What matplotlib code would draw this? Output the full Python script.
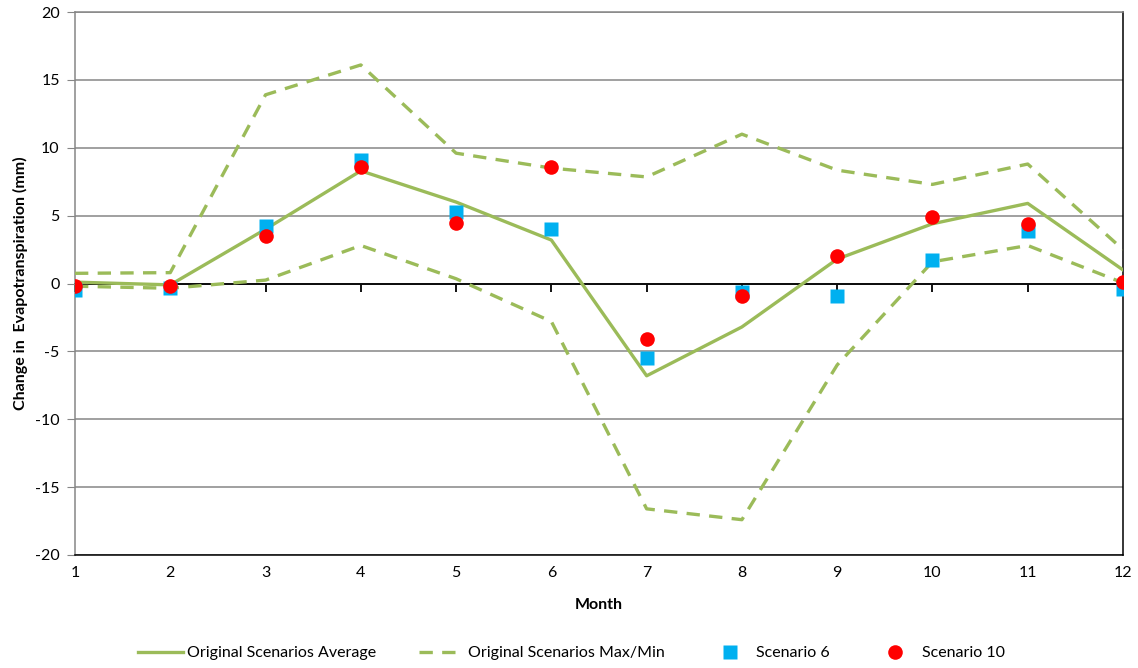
import numpy as np
import matplotlib.pyplot as plt

#%% Data
months = [1, 2, 3, 4, 5, 6, 7, 8, 9, 10, 11, 12]
avg_values = [0.1, -0.1, 4.0, 8.3, 6.0, 3.2, -6.8, -3.2, 1.8, 4.4, 5.9, 1.0]
max_values = [0.75, 0.8, 13.9, 16.1, 9.6, 8.5, 7.85, 11.0, 8.35, 7.3, 8.8, 2.5]
min_values = [-0.2, -0.35, 0.25, 2.8, 0.35, -2.8, -16.6, -17.4, -6.0, 1.6, 2.8, 0.05]
scen6_values = [-0.45, -0.3, 4.2, 9.1, 5.25, 4.0, -5.5, -0.65, -0.9, 1.7, 3.9, -0.4]
scen10_values = [-0.15, -0.2, 3.5, 8.55, 4.45, 8.6, -4.1, -0.95, 2.0, 4.9, 4.4, 0.1]
y_ticks = [-20, -15, -10, -5, 0, 5, 10, 15, 20]

#%% Style
plt.rcParams['font.family'] = ['Lato', 'DejaVu Sans']
plt.rcParams['axes.unicode_minus'] = False
green = '#9BBB59'
grid_gray = '#868686'

fig = plt.figure(figsize=(11.38, 6.68), dpi=100)
rect = [75/1138, 1 - 555/668, (1123-75)/1138, (555-12)/668]

# back axes: gridlines and the horizontal axis line crossing at y = 0
ax0 = fig.add_axes(rect, zorder=0)
ax = fig.add_axes(rect, zorder=1)
ax.patch.set_visible(False)

ax0.set_xlim(1, 12)
ax0.set_ylim(-20, 20)
ax0.set_xticks(months)
ax0.set_yticks(y_ticks)
for side in ['top', 'left', 'right']:
    ax0.spines[side].set_visible(False)
ax0.spines['bottom'].set_position(('data', 0))
ax0.spines['bottom'].set_color('black')
ax0.spines['bottom'].set_linewidth(1.3)
ax0.tick_params(axis='x', direction='out', length=6, width=1.3,
                colors='black', labelbottom=False)
ax0.yaxis.grid(True, color=grid_gray, lw=1.1)
ax0.tick_params(axis='y', left=False, labelleft=False)

#%% Series
ax.plot(months, avg_values, '-', color=green, lw=2.4, label='Original Scenarios Average', zorder=3)
ax.plot(months, max_values, color=green, lw=2.4, linestyle=(0, (4, 2.8)),
        label='Original Scenarios Max/Min', zorder=3)
ax.plot(months, min_values, color=green, lw=2.4, linestyle=(0, (4, 2.8)), zorder=3)
ax.plot(months, scen6_values, 's', color='#00B0F0', ms=9.5, mec='none',
        label='Scenario 6', zorder=4)
ax.plot(months, scen10_values, 'o', color='#FF0000', ms=10.5, mec='none',
        label='Scenario 10', zorder=5)

ax.set_xlim(1, 12)
ax.set_ylim(-20, 20)
ax.set_xticks(months)
ax.set_yticks(y_ticks)

# spines
ax.spines['left'].set_color(grid_gray)
ax.spines['top'].set_color(grid_gray)
ax.spines['right'].set_color('black')
ax.spines['bottom'].set_color('black')
for s in ax.spines.values():
    s.set_linewidth(1.1)

ax.tick_params(axis='x', length=0, labelsize=11.5, pad=8)
ax.tick_params(axis='y', length=6, color=grid_gray, labelsize=11.5, pad=5)

ax.set_xlabel('Month', fontsize=11.5, fontweight='bold', labelpad=13)
ax.set_ylabel('Change in  Evapotranspiration (mm)', fontsize=11.5, fontweight='bold', labelpad=5)

fig.legend(loc='center', bbox_to_anchor=(0.502, 15/668), ncol=4, frameon=False,
           fontsize=11.5, handlelength=2.8, columnspacing=2.7, handletextpad=0.25)

fig.savefig('out.png', dpi=100)
